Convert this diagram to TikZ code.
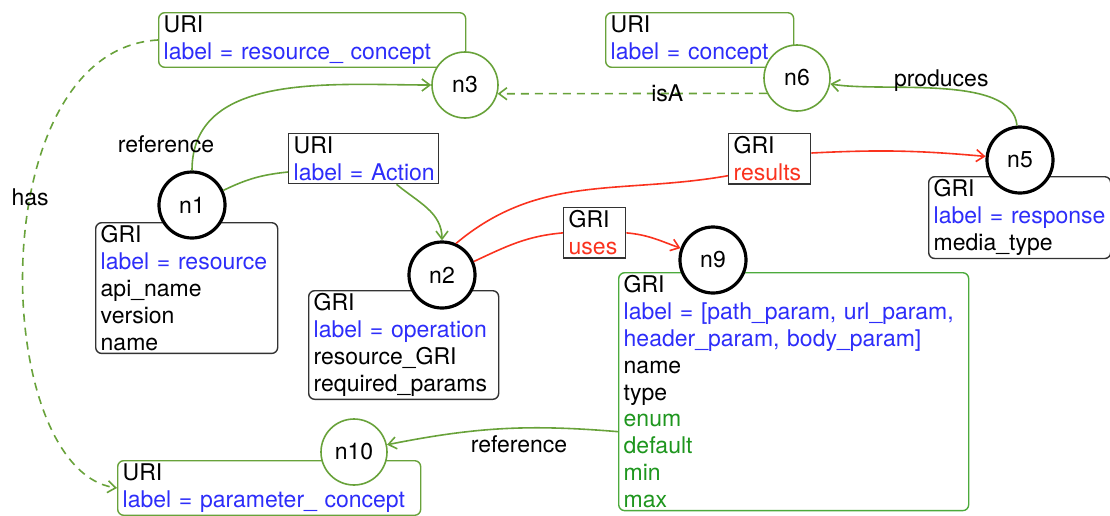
\documentclass[tikz,border=0pt]{standalone}
\usepackage{fontspec}
\setmainfont{TeX Gyre Heros}
\usetikzlibrary{arrows.meta}
\hyphenpenalty=10000
\exhyphenpenalty=10000
\definecolor{cptgreen}{RGB}{104,162,58}
\definecolor{boxgreen}{RGB}{76,170,60}
\definecolor{optgreen}{RGB}{30,150,30}
\definecolor{lblblue}{RGB}{45,45,250}
\definecolor{relred}{RGB}{250,50,30}
\newcommand{\lbl}[1]{\mbox{\textcolor{lblblue}{#1}}}
\newcommand{\opt}[1]{\textcolor{optgreen}{#1}}
\begin{document}
\begin{tikzpicture}[x=0.5pt,y=0.5pt,
  font=\fontsize{11.5}{13.4}\selectfont,
  attr/.style={draw,line width=0.7pt,rounded corners=3pt,anchor=north west,
    align=left,inner xsep=2.5pt,inner ysep=1.5pt,fill=white},
  relbox/.style={attr,sharp corners,draw=black!80},
  resnode/.style={circle,draw,line width=1.6pt,fill=white,minimum size=33pt,inner sep=0pt},
  cptnode/.style={circle,draw=cptgreen,line width=0.8pt,fill=white,minimum size=33pt,inner sep=0pt},
  tip/.style={-{Straight Barb[length=4pt,width=6pt]}},
  cptedge/.style={tip,draw=cptgreen,line width=0.8pt},
  dashedge/.style={cptedge,dash pattern=on 4pt off 3pt},
  reledge/.style={tip,draw=relred,line width=0.8pt}]
\useasboundingbox (0,0) rectangle (1110,-515);

% attribute boxes
\node[attr,draw=cptgreen,text width=148.5pt] (b3) at (158,-12) {URI\\\lbl{label = resource\_ concept}};
\node[attr,draw=cptgreen,text width=89pt] (b6) at (605,-12) {URI\\\lbl{label = concept}};
\node[attr,draw=black!80,text width=86pt] (b1) at (95,-222) {GRI\\\lbl{label = resource}\\api\_name\\version\\name};
\node[attr,draw=black!80,text width=90pt] (b2) at (308,-290) {GRI\\\lbl{label = operation}\\resource\_GRI\\required\_params};
\node[attr,draw=black!80,text width=86pt] (b5) at (928,-176) {GRI\\\lbl{label = response}\\media\_type};
\node[attr,draw=boxgreen,text width=170pt] (b9) at (618,-272) {GRI\\\lbl{label = [path\_param, url\_param,}\\\lbl{header\_param, body\_param]}\\name\\type\\\opt{enum}\\\opt{default}\\\opt{min}\\\opt{max}};
\node[attr,draw=cptgreen,text width=146.5pt] (b10) at (117,-460) {URI\\\lbl{label = parameter\_ concept}};

% labels on edges
\node[relbox,text width=70pt] (lact) at (288,-133) {URI\\\lbl{label = Action}};
\node[relbox,text width=36pt] (lres) at (728,-133) {GRI\\\textcolor{relred}{results}};
\node[relbox,text width=26pt] (luse) at (563,-207) {GRI\\\textcolor{relred}{uses}};

% nodes
\node[cptnode] (n3) at (465,-85) {n3};
\node[cptnode] (n6) at (797,-78) {n6};
\node[resnode] (n1) at (192,-205) {n1};
\node[resnode] (n2) at (442,-275) {n2};
\node[resnode] (n5) at (1020,-160) {n5};
\node[resnode] (n9) at (713,-260) {n9};
\node[cptnode] (n10) at (354,-452) {n10};

% edges
\draw[cptedge] (n1) to[out=90,in=180] node[pos=0.1,xshift=-15pt,text=black]{reference} (n3);
\draw[cptedge,-] (n1.25) to[bend left=10] (lact.190);
\draw[cptedge] (lact.-38) to[out=-40,in=90] (n2);
\draw[dashedge] (n6.207) -- node[pos=0.37,text=black]{isA} (n3.-15);
\draw[cptedge] (n5) to[out=95,in=-10,looseness=0.7] node[pos=0.5,yshift=4pt,text=black]{produces} (n6);
\draw[reledge,-] (n2.66) to[out=40,in=190] (lres.202);
\draw[reledge] (lres.8) to[bend left=4] (n5);
\draw[reledge,-] (n2.23) to[out=25,in=185] (luse.west);
\draw[reledge] (luse.east) to[out=-5,in=160] (n9);
\draw[cptedge] ([yshift=-20pt]b9.west) to[bend right=8] node[pos=0.42,below,text=black]{reference} (n10);
\draw[dashedge] (b3.west) .. controls +(-178,-10) and +(-127,18) .. node[pos=0.4,text=black]{has} (b10.west);
\end{tikzpicture}
\end{document}
